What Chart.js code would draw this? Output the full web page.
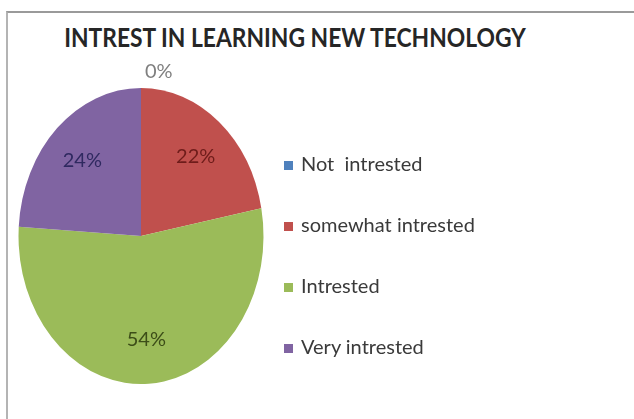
<!DOCTYPE html>
<html>
<head>
<meta charset="utf-8">
<script src="https://cdn.jsdelivr.net/npm/chart.js@4.4.1/dist/chart.umd.min.js"></script>
<style>
  html, body { margin: 0; padding: 0; background: #fff; }
  #wrap { position: relative; width: 634px; height: 419px; overflow: hidden; }
  #frame { position: absolute; left: 6px; top: 11px; width: 700px; height: 420px;
           border-top: 2px solid #9a9a9a; border-left: 2px solid #b4b4b4; }
  #title { position: absolute; left: 0; top: 24px; width: 590px; text-align: center;
           font: bold 26px Lato, sans-serif; line-height: 26px; color: #262626;
           transform: scaleX(0.878); transform-origin: 295px 0; }
  #pie { position: absolute; left: 0; top: 0; }
  #legend { position: absolute; left: 284px; top: 133px; margin: 0; padding: 0; list-style: none;
            font: 20px Lato, sans-serif; color: #3a3a3a; }
  #legend li { height: 61px; line-height: 61px; white-space: pre; }
  #legend span { display: inline-block; width: 9px; height: 9px; margin-right: 8px; vertical-align: 1px; }
</style>
</head>
<body>
<div id="wrap">
  <div id="frame"></div>
  <div id="title">INTREST IN LEARNING NEW TECHNOLOGY</div>
  <canvas id="pie" width="634" height="419"></canvas>
  <ul id="legend"></ul>
</div>
<script>
// survey answers, percent of respondents
const categories = ['Not  intrested', 'somewhat intrested', 'Intrested', 'Very intrested'];
const shares = [0, 22, 54, 24];
const sliceColors = ['#4F81BD', '#C0504D', '#9BBB59', '#8064A2'];
const labelColors = ['#7f7f7f', '#6e1c1a', '#3c4d18', '#2f2960'];

const FONT = 'Lato, sans-serif';
const radiusX = 122.5, radiusY = 148;

// stretch the round pie into the tall oval and write the percentages on it
const ovalPie = {
    id: 'ovalPie',
    beforeDatasetsDraw(chart) {
        const arc = chart.getDatasetMeta(0).data[0];
        const ctx = chart.ctx;
        ctx.save();
        ctx.translate(arc.x, arc.y);
        ctx.scale(radiusX / arc.outerRadius, radiusY / arc.outerRadius);
        ctx.translate(-arc.x, -arc.y);
    },
    afterDatasetsDraw(chart) {
        const ctx = chart.ctx;
        ctx.restore();
        const arcs = chart.getDatasetMeta(0).data;
        ctx.save();
        ctx.font = '20px ' + FONT;
        ctx.textBaseline = 'middle';
        arcs.forEach((arc, i) => {
            const mid = (arc.startAngle + arc.endAngle) / 2;
            const value = shares[i];
            let f = 0.7, align = 'center', dx = 0;
            if (value === 0) { f = 1.11; align = 'left'; dx = 4; }
            const x = arc.x + Math.cos(mid) * radiusX * f + dx;
            const y = arc.y + Math.sin(mid) * radiusY * f;
            ctx.textAlign = align;
            ctx.fillStyle = labelColors[i];
            ctx.fillText(value + '%', x, y);
        });
        ctx.restore();
    }
};

// legend as html list next to the pie
const htmlLegend = {
    id: 'htmlLegend',
    afterUpdate(chart) {
        const ul = document.getElementById('legend');
        ul.innerHTML = '';
        chart.options.plugins.legend.labels.generateLabels(chart).forEach(item => {
            const li = document.createElement('li');
            const box = document.createElement('span');
            box.style.background = item.fillStyle;
            li.appendChild(box);
            li.appendChild(document.createTextNode(item.text));
            ul.appendChild(li);
        });
    }
};

new Chart(document.getElementById('pie'), {
    type: 'pie',
    data: {
        labels: categories,
        datasets: [{
            data: shares,
            backgroundColor: sliceColors,
            borderWidth: 0
        }]
    },
    options: {
        responsive: false,
        animation: false,
        layout: { padding: { left: 38, right: 390, top: 112, bottom: 59 } },
        plugins: {
            legend: { display: false },
            tooltip: { enabled: false }
        }
    },
    plugins: [ovalPie, htmlLegend]
});
</script>
</body>
</html>
